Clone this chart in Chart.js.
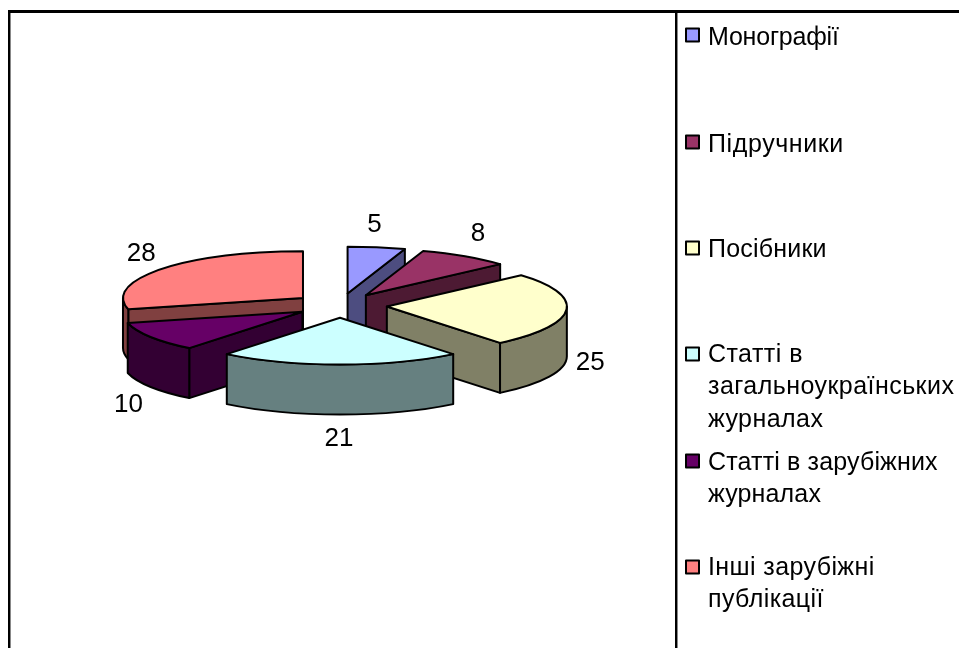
<!DOCTYPE html>
<html>
<head>
<meta charset="utf-8">
<style>
  html, body { margin: 0; padding: 0; background: #fff; overflow: hidden; }
  canvas { display: block; }
</style>
<script src="https://cdn.jsdelivr.net/npm/chart.js@4/dist/chart.umd.min.js"></script>
</head>
<body>
<canvas id="pie_chart" width="959" height="648"></canvas>
<script>
var categories = ['Монографії', 'Підручники', 'Посібники', 'Статті в\nзагальноукраїнських\nжурналах', 'Статті в зарубіжних\nжурналах', 'Інші зарубіжні\nпублікації'];
var values = [5, 8, 25, 21, 10, 28];
var topColors = ['#9999FF', '#993366', '#FFFFCC', '#CCFFFF', '#660066', '#FF8080'];
var sideColors = ['#4D4D80', '#4D1A33', '#808066', '#668080', '#330033', '#804040'];

// back to front, so the near slices cover the far ones
var drawOrder = [0, 1, 5, 4, 2, 3];
var squash = 0.26;
var depth = 50;
var explode = [47, 47, 47, 47, 44.5, 47];
var fontName = '"Liberation Sans", Arial, sans-serif';

// value label nudge from the middle of the slice rim
var labelNudge = [[-2, -22], [13, -22], [24, 53], [-1, 74], [-20, 68], [-20, -15]];
var legendBoxY = [35, 142, 248, 354, 461, 567];
var legendLineY = [[45], [152], [257], [362, 394, 427], [470, 502], [575, 607]];
var legendSpacing = ['-0.2px', '0.6px', '0.2px', '0.45px', '0.15px', '0.4px'];

function drawSlice(ctx, arc, i) {
  var mid = (arc.startAngle + arc.endAngle) / 2;
  var r = arc.outerRadius;
  var rY = r * squash;
  var cx = arc.x + Math.cos(mid) * explode[i];
  var cy = arc.y + Math.sin(mid) * explode[i] * squash;

  function face(angle) {
    var px = cx + Math.cos(angle) * r;
    var py = cy + Math.sin(angle) * rY;
    ctx.beginPath();
    ctx.moveTo(cx, cy);
    ctx.lineTo(px, py);
    ctx.lineTo(px, py + depth);
    ctx.lineTo(cx, cy + depth);
    ctx.closePath();
    ctx.fillStyle = sideColors[i];
    ctx.fill();
    ctx.stroke();
  }

  if (Math.cos(arc.startAngle) < 0) face(arc.startAngle);
  if (Math.cos(arc.endAngle) > 0) face(arc.endAngle);

  // outer wall, only the part that faces the viewer
  var a0 = Math.max(arc.startAngle, 0);
  var a1 = Math.min(arc.endAngle, Math.PI);
  if (a1 > a0) {
    ctx.beginPath();
    ctx.ellipse(cx, cy, r, rY, 0, a0, a1);
    ctx.ellipse(cx, cy + depth, r, rY, 0, a1, a0, true);
    ctx.closePath();
    ctx.fillStyle = sideColors[i];
    ctx.fill();
    ctx.stroke();
  }

  ctx.beginPath();
  ctx.moveTo(cx, cy);
  ctx.ellipse(cx, cy, r, rY, 0, arc.startAngle, arc.endAngle);
  ctx.closePath();
  ctx.fillStyle = topColors[i];
  ctx.fill();
  ctx.stroke();
}

var pie3d = {
  id: 'pie3d',
  beforeDatasetsDraw: function (chart) {
    var ctx = chart.ctx;
    var arcs = chart.getDatasetMeta(0).data;

    ctx.save();
    ctx.strokeStyle = '#000';
    ctx.lineWidth = 2;
    ctx.lineJoin = 'round';
    drawOrder.forEach(function (i) {
      drawSlice(ctx, arcs[i], i);
    });

    // value labels
    ctx.fillStyle = '#000';
    ctx.font = '26px ' + fontName;
    ctx.textAlign = 'center';
    ctx.textBaseline = 'middle';
    arcs.forEach(function (arc, i) {
      var mid = (arc.startAngle + arc.endAngle) / 2;
      var x = arc.x + Math.cos(mid) * (47 + arc.outerRadius);
      var y = arc.y + Math.sin(mid) * (47 + arc.outerRadius) * squash;
      ctx.fillText(values[i], x + labelNudge[i][0], y + labelNudge[i][1]);
    });

    // legend
    ctx.font = '25px ' + fontName;
    ctx.textAlign = 'left';
    ctx.textBaseline = 'alphabetic';
    categories.forEach(function (name, i) {
      ctx.fillStyle = topColors[i];
      ctx.fillRect(686, legendBoxY[i] - 6.5, 13, 13);
      ctx.strokeRect(686, legendBoxY[i] - 6.5, 13, 13);
      ctx.fillStyle = '#000';
      ctx.letterSpacing = legendSpacing[i];
      name.split('\n').forEach(function (line, k) {
        ctx.fillText(line, 708, legendLineY[i][k]);
      });
    });
    ctx.letterSpacing = '0px';

    // frame
    ctx.fillStyle = '#000';
    ctx.fillRect(8, 10, 951, 3);
    ctx.fillRect(8, 10, 2, 638);
    ctx.fillRect(675, 10, 2, 638);
    ctx.fillStyle = '#888';
    ctx.fillRect(10, 13, 1, 635);
    ctx.fillRect(677, 13, 1, 635);
    ctx.restore();
    return false;
  }
};

var ctx = document.getElementById('pie_chart').getContext('2d');
var myChart = new Chart(ctx, {
  type: 'pie',
  data: {
    labels: categories,
    datasets: [{
      data: values,
      backgroundColor: topColors,
      radius: 180
    }]
  },
  options: {
    responsive: false,
    animation: false,
    radius: 180,
    layout: { padding: { left: 0, top: 0, right: 279, bottom: 37 } },
    plugins: {
      legend: { display: false },
      tooltip: { enabled: false }
    }
  },
  plugins: [pie3d]
});
</script>
</body>
</html>
